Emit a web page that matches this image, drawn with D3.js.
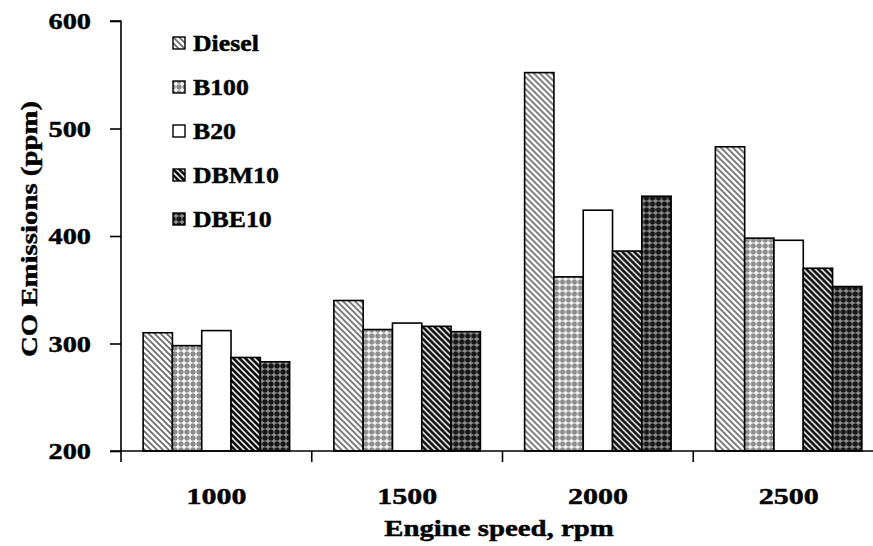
<!DOCTYPE html>
<html>
<head>
<meta charset="utf-8">
<script src="https://cdn.jsdelivr.net/npm/d3@7/dist/d3.min.js"></script>
<style>
body { margin: 0; background: #fff; }
text { font-family: "Liberation Serif", "Times New Roman", serif; font-weight: bold; stroke: #000; stroke-width: 0.45px; }
</style>
</head>
<body>
<div id="chart"></div>
<script>
// engine speeds on the x axis
var speeds = ["1000", "1500", "2000", "2500"];
var fuels = ["Diesel", "B100", "B20", "DBM10", "DBE10"];
var yTicks = [200, 300, 400, 500, 600];

// CO emissions (ppm), one array per fuel
var diesel = [310, 340, 552, 483];
var b100 = [298, 313, 362, 398];
var b20 = [312, 319, 424, 396];
var dbm10 = [287, 316, 386, 370];
var dbe10 = [283, 311, 437, 353];

var seriesValues = [diesel, b100, b20, dbm10, dbe10];
var fills = ["url(#pDiesel)", "url(#pB100)", "#fff", "url(#pDBM10)", "url(#pDBE10)"];

var W = 873, H = 546;

var svg = d3.select("#chart").append("svg")
	.attr("width", W)
	.attr("height", H);

// fill patterns
var defs = svg.append("defs");

var p = defs.append("pattern").attr("id", "pDiesel")
	.attr("patternUnits", "userSpaceOnUse").attr("width", 6).attr("height", 6);
p.append("rect").attr("width", 6).attr("height", 6).attr("fill", "#fff");
p.append("path").attr("d", "M-1,-1 L7,7 M-1,5 L1,7 M5,-1 L7,1")
	.attr("stroke", "#6e6e6e").attr("stroke-width", 1.8);

p = defs.append("pattern").attr("id", "pDBM10")
	.attr("patternUnits", "userSpaceOnUse").attr("width", 6).attr("height", 6);
p.append("rect").attr("width", 6).attr("height", 6).attr("fill", "#fff");
p.append("path").attr("d", "M-1,-1 L7,7 M-1,5 L1,7 M5,-1 L7,1")
	.attr("stroke", "#111").attr("stroke-width", 2.7);

p = defs.append("pattern").attr("id", "pB100")
	.attr("patternUnits", "userSpaceOnUse").attr("width", 6).attr("height", 6);
p.append("rect").attr("width", 6).attr("height", 6).attr("fill", "#8c8c8c");
p.append("path").attr("d", "M3,0.5 V5.5 M0.5,3 H5.5")
	.attr("stroke", "#fff").attr("stroke-width", 1.5);

p = defs.append("pattern").attr("id", "pDBE10")
	.attr("patternUnits", "userSpaceOnUse").attr("width", 6).attr("height", 6);
p.append("rect").attr("width", 6).attr("height", 6).attr("fill", "#161616");
p.append("path").attr("d", "M3,0.5 V5.5 M0.5,3 H5.5")
	.attr("stroke", "#9a9a9a").attr("stroke-width", 1.4);

// stretch text horizontally like the source picture
function stretch(sel, k){
	sel.each(function(){
		var len = this.getComputedTextLength();
		d3.select(this).attr("textLength", len * k).attr("lengthAdjust", "spacingAndGlyphs");
	});
}

var x0 = d3.scaleBand()
	.domain(speeds)
	.range([121, 884])
	.padding(0);

var x1 = d3.scaleBand()
	.domain(fuels)
	.range([0, x0.bandwidth()])
	.paddingInner(0)
	.paddingOuter(0.755);

var y = d3.scaleLinear()
	.domain([200, 600])
	.range([451, 21]);

// bars
var groups = svg.selectAll(".grp")
	.data(speeds)
	.enter().append("g")
	.attr("class", "grp")
	.attr("transform", function(d){ return "translate(" + x0(d) + ",0)"; });

groups.selectAll("rect")
	.data(function(d, i){
		return fuels.map(function(f, j){ return {fuel: f, value: seriesValues[j][i], idx: j}; });
	})
	.enter().append("rect")
	.attr("x", function(d){ return x1(d.fuel); })
	.attr("y", function(d){ return y(d.value); })
	.attr("width", x1.bandwidth())
	.attr("height", function(d){ return y(200) - y(d.value); })
	.attr("fill", function(d){ return fills[d.idx]; })
	.attr("stroke", "#000")
	.attr("stroke-width", 1.6);

// y axis
var yAxis = svg.append("g")
	.attr("transform", "translate(121,0)")
	.call(d3.axisLeft(y).tickValues(yTicks).tickSize(11).tickPadding(19).tickFormat(d3.format("d")));
yAxis.selectAll("path, line").attr("stroke", "#000").attr("stroke-width", 1.6);
yAxis.select(".domain").attr("d", "M-11," + y(600) + "H0V" + y(200));
yAxis.selectAll("text")
	.attr("font-size", 24)
	.attr("fill", "#000")
	.call(stretch, 1.18);

// x axis: line with ticks at category boundaries, labels centred
var xAxis = svg.append("g").attr("transform", "translate(0," + y(200) + ")");
xAxis.append("line")
	.attr("x1", 110).attr("x2", x0.range()[1])
	.attr("stroke", "#000").attr("stroke-width", 1.6);
xAxis.selectAll(".bt")
	.data(speeds)
	.enter().append("line")
	.attr("class", "bt")
	.attr("x1", function(d){ return x0(d); })
	.attr("x2", function(d){ return x0(d); })
	.attr("y1", 0).attr("y2", 11)
	.attr("stroke", "#000").attr("stroke-width", 1.6);
var xLab = svg.append("g")
	.attr("transform", "translate(0," + y(200) + ")")
	.call(d3.axisBottom(x0).tickSize(0).tickPadding(36));
xLab.select(".domain").remove();
xLab.selectAll("text")
	.attr("font-size", 24)
	.attr("fill", "#000")
	.call(stretch, 1.25);

// axis titles
svg.append("text")
	.attr("x", 499)
	.attr("y", 536)
	.attr("text-anchor", "middle")
	.attr("font-size", 24)
	.text("Engine speed, rpm")
	.call(stretch, 1.2);

svg.append("text")
	.attr("transform", "translate(37,229) rotate(-90)")
	.attr("text-anchor", "middle")
	.attr("font-size", 24)
	.text("CO Emissions (ppm)")
	.call(stretch, 1.2);

// legend
var legend = svg.selectAll(".leg")
	.data(fuels)
	.enter().append("g")
	.attr("class", "leg")
	.attr("transform", function(d, i){ return "translate(173," + (43 + i * 44) + ")"; });
legend.append("rect")
	.attr("x", 0).attr("y", -6)
	.attr("width", 12).attr("height", 12)
	.attr("fill", function(d, i){ return fills[i]; })
	.attr("stroke", "#000").attr("stroke-width", 1.4);
legend.append("text")
	.attr("x", 20)
	.attr("y", 8)
	.attr("font-size", 23)
	.text(function(d){ return d; })
	.call(stretch, 1.12);
</script>
</body>
</html>
